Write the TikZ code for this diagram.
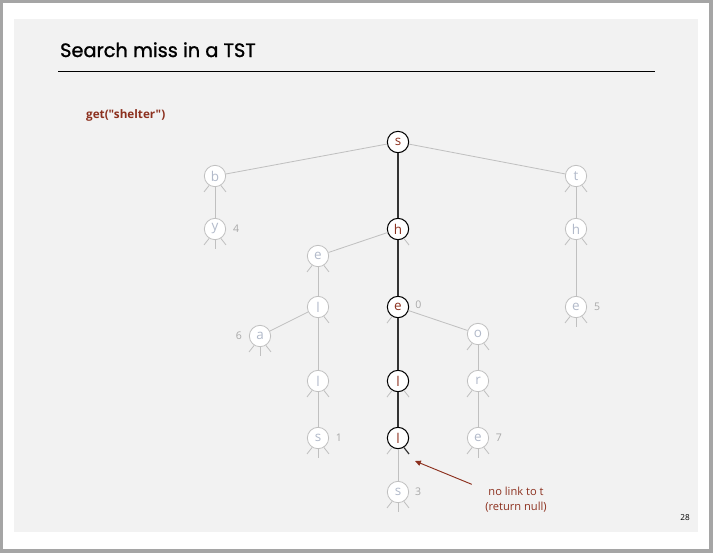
\documentclass[tikz,border=0pt]{standalone}
\usepackage{fontspec}
\setmainfont{Open Sans}
\newfontfamily\titlefont{Poppins}[FakeBold=1.2]
\newfontfamily\queryfont{Open Sans}
\definecolor{SlideGray}{RGB}{242,242,242}
\definecolor{FrameGray}{RGB}{165,165,165}
\definecolor{EdgeGray}{RGB}{192,192,192}
\definecolor{KeyGray}{RGB}{178,186,202}
\definecolor{ValGray}{RGB}{168,168,168}
\definecolor{HitRed}{RGB}{140,48,30}
\usetikzlibrary{
    arrows.meta,
    positioning,
}

\begin{document}
\begin{tikzpicture}[x=0.03cm, y=-0.03cm,
        tn/.style={circle, draw=EdgeGray, fill=white, line width=0.7pt, minimum size=0.64cm, inner sep=0pt, text=KeyGray, font=\fontsize{11.5}{12}\selectfont},
        hn/.style={tn, draw=black, line width=0.9pt, text=HitRed},
        link/.style={draw=EdgeGray, line width=0.7pt},
        hit/.style={draw=black!80, line width=1pt},
        val/.style={text=ValGray, font=\fontsize{9}{10}\selectfont, inner sep=1pt},
        note/.style={text=HitRed, font=\fontsize{9.5}{13}\selectfont, align=center},
    ]
        \fill[FrameGray] (0,0) rectangle (713,553);
        \fill[white] (3,3) rectangle (709,549);
        \fill[SlideGray] (14,19) rectangle (698,532);

        \node[anchor=base west, font=\titlefont\fontsize{16.5}{20}\selectfont] (title) at (56,57) {Search miss in a TST};
        \draw[line width=0.8pt] (58,71) -- (655,71);
        \node[anchor=base west, text=HitRed, font=\queryfont\bfseries\fontsize{10}{12}\selectfont] (query) at (82,118) {get("shelter")};

        \node[hn] (s) at (398,142) {s};
        \node[tn] (b) at (215,176) {b};
        \node[tn] (t) at (576,176) {t};
        \node[tn] (by) at (215,229) {y};
        \node[hn] (sh) at (398,229) {h};
        \node[tn] (th) at (576,229) {h};
        \node[tn] (se) at (318,256) {e};
        \node[tn] (sel) at (318,307) {l};
        \node[hn] (she) at (398,307) {e};
        \node[tn] (the) at (576,307) {e};
        \node[tn] (sea) at (260,336) {a};
        \node[tn] (sho) at (478,334) {o};
        \node[tn] (sell) at (318,381) {l};
        \node[hn] (shel) at (398,381) {l};
        \node[tn] (shor) at (478,381) {r};
        \node[tn] (sells) at (318,438) {s};
        \node[hn] (shell) at (398,438) {l};
        \node[tn] (shore) at (478,438) {e};
        \node[tn] (shells) at (398,492) {s};

        \node[val, right=0.17cm of by] (v4) {4};
        \node[val, right=0.17cm of the] (v5) {5};
        \node[val, right=0.14cm of she, yshift=2pt] (v0) {0};
        \node[val, left=0.17cm of sea] (v6) {6};
        \node[val, right=0.16cm of sells] (v1) {1};
        \node[val, right=0.16cm of shore] (v7) {7};
        \node[val, right=0.14cm of shells] (v3) {3};

        \foreach \a/\b in {s/b, s/t, b/by, t/th, th/the, sh/se, se/sel, sel/sea, sel/sell, sell/sells, she/sho, sho/shor, shor/shore, shell/shells}
            \draw[link] (\a) -- (\b);
        \foreach \a/\b in {s/sh, sh/she, she/shel, shel/shell}
            \draw[hit] (\a) -- (\b);

        \foreach \n in {by, the, sea, sells, shore, shells}
            \draw[link] (\n.-90) -- ++(-90:0.27cm);
        \foreach \n in {by, the, sea, sells, shore, shells, b, t, th, se, sell, sho, shor, shel, she, shell}
            \draw[link] (\n.-122) -- ++(-128:0.25cm);
        \foreach \n in {by, the, sea, sells, shore, shells, b, t, th, se, sell, sho, shor, shel, sh, sel}
            \draw[link] (\n.-58) -- ++(-52:0.25cm);
        \draw[hit] (shell.-58) -- ++(-52:0.25cm);

        \node[note] (miss) at (516,500) {no link to t\\(return null)};
        \coordinate (nolink) at (415,461);
        \draw[HitRed, line width=0.8pt, -{Triangle[length=5pt, width=4.5pt]}] (miss.north west) ++(-8pt,-1pt) -- (nolink);

        \node[font=\fontsize{7}{8}\selectfont] (page) at (685,518) {28};
    \end{tikzpicture}
\end{document}
